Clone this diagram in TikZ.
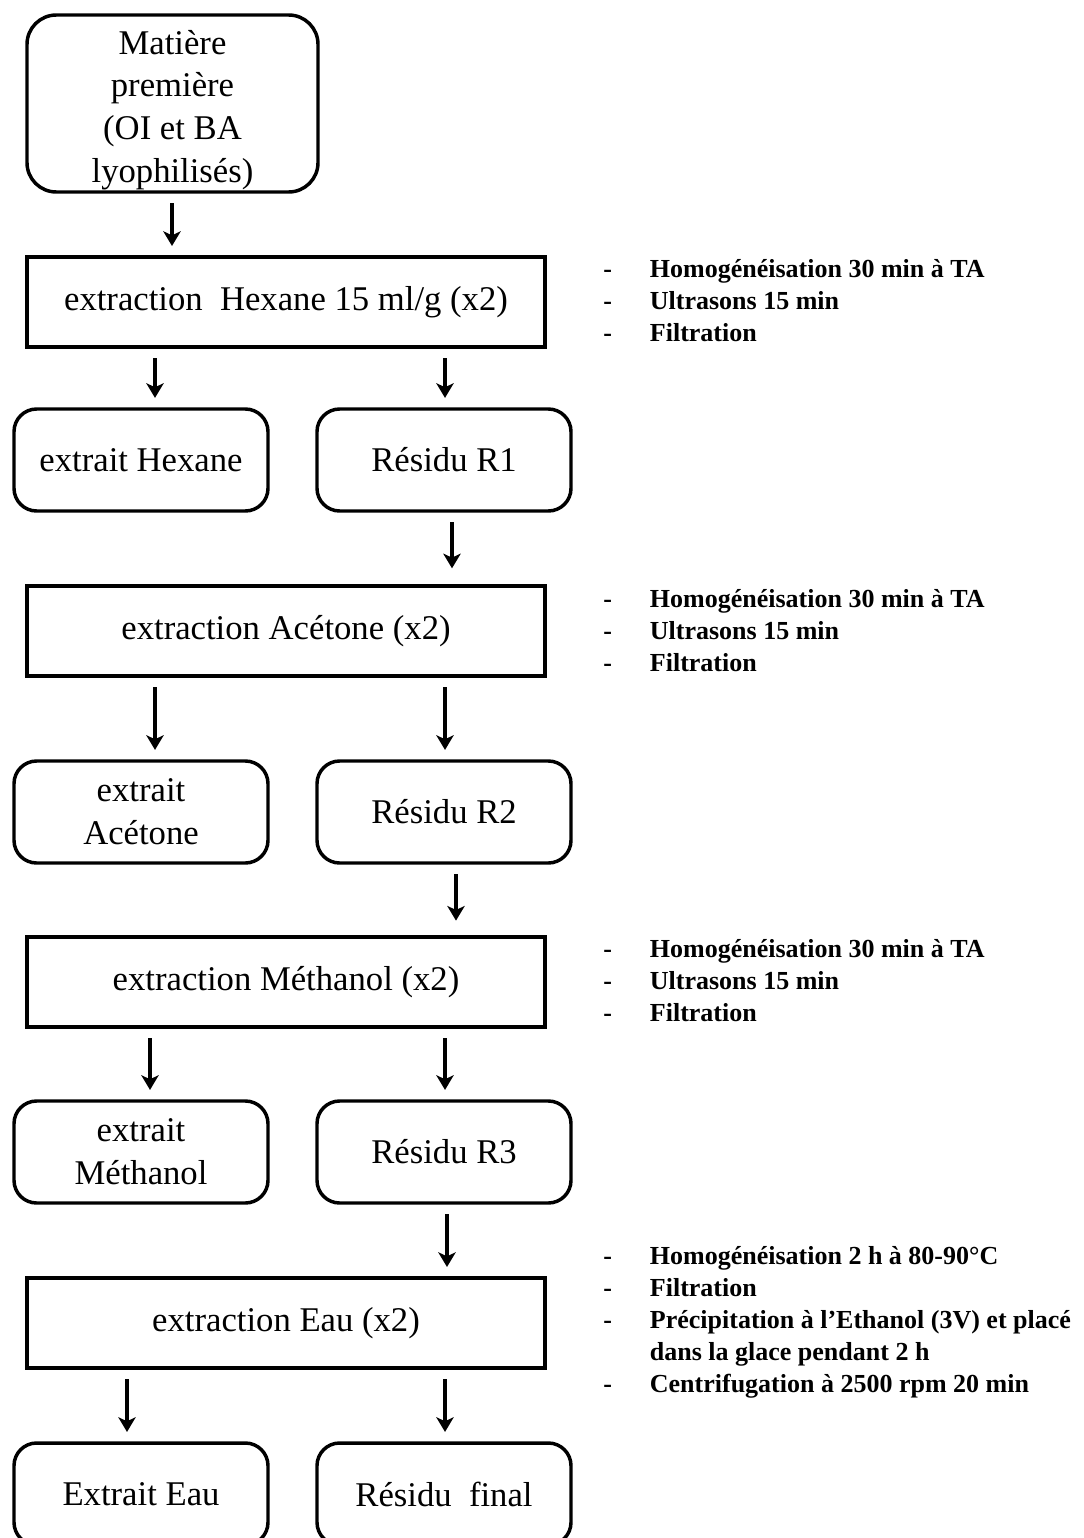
\documentclass[tikz,border=0pt]{standalone}
\usepackage{fontspec}
\setmainfont{Liberation Serif}
\usetikzlibrary{arrows.meta}
\tikzset{
  rbox/.style={draw, line width=2.6pt, rounded corners=17pt, align=center, inner sep=0pt,
    minimum width=190.5pt, minimum height=76.5pt, font=\fontsize{26}{32}\selectfont},
  sbox/.style={draw, line width=3pt, align=center, inner sep=0pt,
    minimum width=388.5pt, minimum height=67pt, font=\fontsize{26}{32}\selectfont},
  arr/.style={line width=2.3pt, -{Stealth[length=11pt,width=13pt,inset=3pt]},
    shorten <=7pt, shorten >=7pt},
  note/.style={anchor=base west, inner sep=0pt, align=left,
    font=\fontsize{19.5}{24}\selectfont\bfseries}
}
\newcommand{\notetab}[1]{\begin{tabular}[t]{@{}l@{\hspace{28.5pt}}l@{}}#1\end{tabular}}
\begin{document}
\begin{tikzpicture}[x=0.75pt,y=-0.75pt]
\useasboundingbox (0,0) rectangle (1084,1538);
\clip (0,0) rectangle (1084,1538);
\fill[white] (0,0) rectangle (1084,1538);

\node[rbox, rounded corners=22pt, minimum width=218.25pt, minimum height=132.75pt] (top) at (172.5,103.5)
  {\raisebox{-4.5pt}[\height][\depth]{\begin{tabular}{@{}c@{}}Matière\\première\\(OI et BA\\lyophilisés)\end{tabular}}};

\node[sbox] (hex) at (286,302) {extraction\ \ Hexane\ 15 ml/g (x2)};
\node[rbox] (eh) at (141,460) {extrait Hexane};
\node[rbox] (r1) at (444,460) {Résidu R1};

\node[sbox] (ace) at (286,631) {extraction Acétone (x2)};
\node[rbox] (ea) at (141,812) {extrait\\Acétone};
\node[rbox] (r2) at (444,812) {Résidu R2};

\node[sbox] (met) at (286,982) {extraction Méthanol (x2)};
\node[rbox] (em) at (141,1152) {extrait\\Méthanol};
\node[rbox] (r3) at (444,1152) {Résidu R3};

\node[sbox] (eau) at (286,1323) {extraction Eau (x2)};
\node[rbox] (ee) at (141,1494) {Extrait Eau};
\node[rbox] (rf) at (444,1494) {Résidu\ \ final};

\draw[arr] (top.south -| 172,0) -- (hex.north -| 172,0);
\draw[arr] (hex.south -| 155,0) -- (eh.north -| 155,0);
\draw[arr] (hex.south -| 445,0) -- (r1.north -| 445,0);
\draw[arr] (r1.south -| 452,0) -- ([yshift=5pt]ace.north -| 452,0);
\draw[arr] (ace.south -| 155,0) -- (ea.north -| 155,0);
\draw[arr] (ace.south -| 445,0) -- (r2.north -| 445,0);
\draw[arr] (r2.south -| 456,0) -- ([yshift=4pt]met.north -| 456,0);
\draw[arr] (met.south -| 150,0) -- (em.north -| 150,0);
\draw[arr] (met.south -| 445,0) -- (r3.north -| 445,0);
\draw[arr] (r3.south -| 447,0) -- (eau.north -| 447,0);
\draw[arr] (eau.south -| 127,0) -- (ee.north -| 127,0);
\draw[arr] (eau.south -| 445,0) -- (rf.north -| 445,0);

\node[note] (n1) at (603,277) {\notetab{-&Homogénéisation 30 min à TA\\-&Ultrasons 15 min\\-&Filtration}};
\node[note] (n2) at (603,607) {\notetab{-&Homogénéisation 30 min à TA\\-&Ultrasons 15 min\\-&Filtration}};
\node[note] (n3) at (603,957) {\notetab{-&Homogénéisation 30 min à TA\\-&Ultrasons 15 min\\-&Filtration}};
\node[note] (n4) at (603,1264) {\notetab{-&Homogénéisation 2 h à 80-90°C\\-&Filtration\\-&Précipitation à l’Ethanol (3V) et placé\\&dans la glace pendant 2 h\\-&Centrifugation à 2500 rpm 20 min}};
\end{tikzpicture}
\end{document}
